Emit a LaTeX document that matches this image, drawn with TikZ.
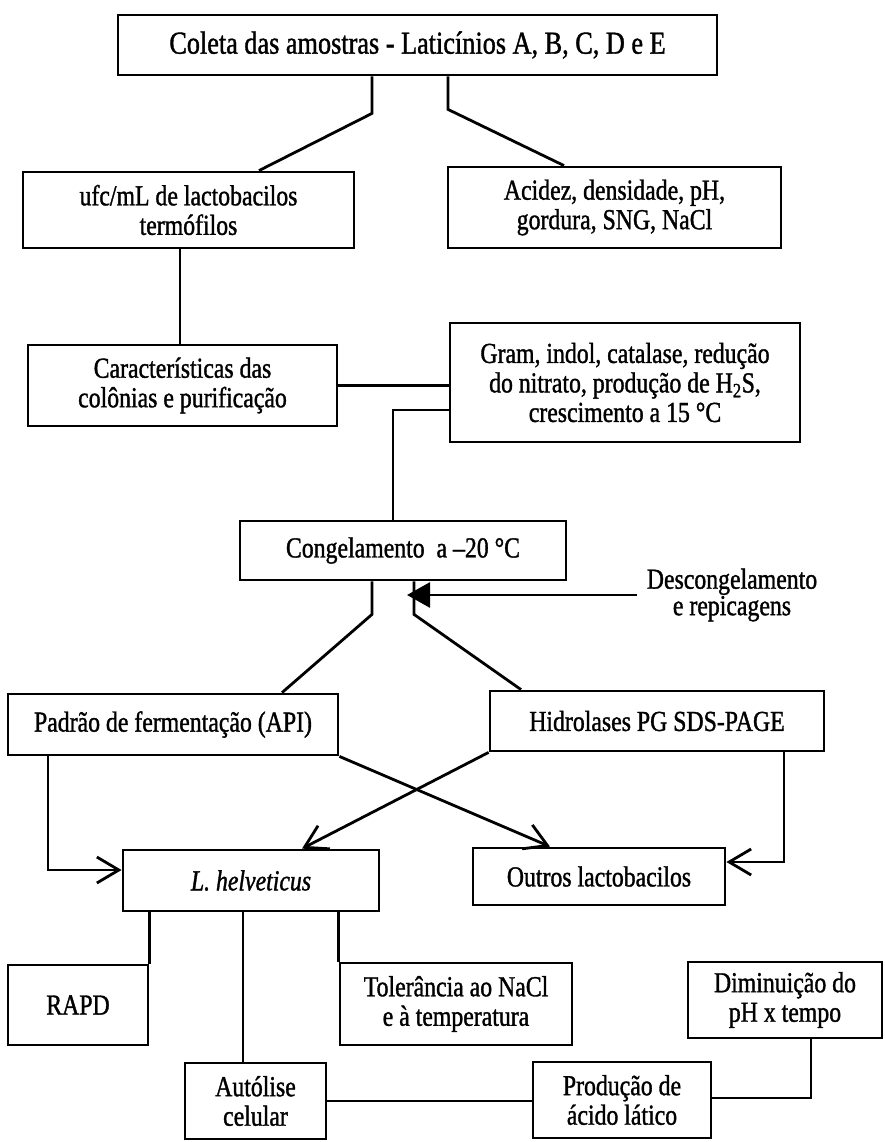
\documentclass[tikz,border=0pt]{standalone}
\usepackage{fontspec}
\setmainfont{Liberation Serif}[FakeStretch=0.82, FakeBold=1.2]
\usepackage{tikz}
\usetikzlibrary{arrows.meta, positioning, calc}

\begin{document}
\begin{tikzpicture}[x=1pt, y=-1pt, line width=2.8pt,
  box/.style={draw, inner sep=0pt, align=center, font=\fontsize{29}{29.5}\selectfont},
  fillhead/.style={-{Triangle[length=23pt,width=25pt]}},
  openhead/.style={-{Straight Barb[length=22pt,width=26pt,line width=2.8pt]}}]
\useasboundingbox (0,0) rectangle (884,1142);

% Coleta e primeiras analises
\node[box, minimum width=599pt, minimum height=60pt, font=\fontsize{32}{32}\selectfont] (coleta) at (417.5,45) {Coleta das amostras - Laticínios A, B, C, D e E};
\node[box, minimum width=331pt, minimum height=76pt] (ufc) at (188.5,210) {ufc/mL de lactobacilos\\termófilos};
\node[box, minimum width=333pt, minimum height=81pt] (acidez) at (614.5,207.5) {Acidez, densidade, pH,\\gordura, SNG, NaCl};
\draw ([xshift=-45.5pt]coleta.south) -- ++(0,37) -- ([xshift=70.5pt]ufc.north);
\draw ([xshift=30.5pt]coleta.south) -- ++(0,33) -- ([xshift=-50.5pt]acidez.north);

% Isolamento
\node[box, minimum width=309pt, minimum height=81pt] (caract) at (182.5,385.5) {Características das\\colônias e purificação};
\node[box, minimum width=350pt, minimum height=119pt] (gram) at (625,382.5) {Gram, indol, catalase, redução\\do nitrato, produção de H\textsubscript{2}S,\\crescimento a 15 °C};
\draw ([xshift=-8.5pt]ufc.south) -- ([xshift=-8.5pt]ufc.south |- caract.north);
\draw (caract.east) -- (caract.east -| gram.west);

% Congelamento
\node[box, minimum width=326pt, minimum height=59pt] (congel) at (403,550.5) {Congelamento\ \ a –20 °C};
\draw ([yshift=-27.5pt]gram.west) -| ([xshift=-10pt]congel.north);
\node[align=center, inner sep=0pt, font=\fontsize{29}{25}\selectfont] (desc) at (732,595) {Descongelamento\\e repicagens};

% Identificacao
\node[box, minimum width=330pt, minimum height=61pt] (padrao) at (173,724.5) {Padrão de fermentação (API)};
\node[box, minimum width=334pt, minimum height=60pt] (hidrol) at (657,721) {Hidrolases PG SDS-PAGE};
\coordinate (cgl) at ([xshift=-31pt]congel.south);
\coordinate (cgr) at ([xshift=11pt]congel.south);
\draw (cgl) -- ++(0,33) -- ([xshift=109pt]padrao.north);
\draw (cgr) -- ++(0,33) -- ([xshift=-136pt]hidrol.north);
\draw[fillhead, shorten >=1pt] ([xshift=-8pt]desc.west) -- ([xshift=-8pt]desc.west -| cgr);

\node[box, minimum width=256pt, minimum height=61pt] (helv) at (251,880.5) {\textit{L. helveticus}};
\node[box, minimum width=252pt, minimum height=57pt] (outros) at (599,876.5) {Outros lactobacilos};
\draw[openhead] ([xshift=-125pt]padrao.south) |- ([yshift=10.5pt]helv.west);
\draw[openhead] (padrao.south east) -- ([xshift=-49pt]outros.north);
\draw[openhead] (hidrol.south west) -- ([xshift=51pt]helv.north);
\draw[openhead] ([xshift=127pt]hidrol.south) |- ([yshift=14.5pt]outros.east);

% Caracterizacao de L. helveticus
\node[box, minimum width=140pt, minimum height=80pt] (rapd) at (78,1005) {RAPD};
\node[box, minimum width=232pt, minimum height=82pt] (toler) at (456,1004) {Tolerância ao NaCl\\e à temperatura};
\node[box, minimum width=194pt, minimum height=76pt] (dimin) at (785,1000) {Diminuição do\\pH x tempo};
\node[box, minimum width=141pt, minimum height=76pt] (autol) at (255.5,1101) {Autólise\\celular};
\node[box, minimum width=178pt, minimum height=76pt] (prod) at (622,1100) {Produção de\\ácido lático};
\draw (rapd.north east |- helv.south) -- (rapd.north east);
\draw ([xshift=-8pt]helv.south) -- ([xshift=-8pt]helv.south |- autol.north);
\draw (toler.north west |- helv.south) -- (toler.north west);
\draw (autol.east) -- (autol.east -| prod.west);
\draw ([yshift=2pt]prod.east) -| ([xshift=26pt]dimin.south);
\end{tikzpicture}
\end{document}
